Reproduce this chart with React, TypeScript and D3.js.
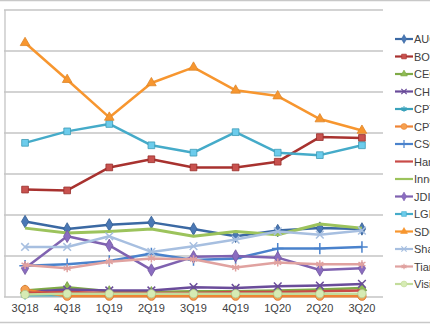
import React from "react";
import * as d3 from "d3";

const categories = ["3Q18", "4Q18", "1Q19", "2Q19", "3Q19", "4Q19", "1Q20", "2Q20", "3Q20"];

const seriesNames = ["AUO", "BOE", "CEC-Panda", "CHOT", "CPT", "CPTF", "CSOT", "HannStar", "Innolux", "JDI", "LGD", "SDC", "Sharp", "Tianma", "Visionox"];

const auo = [9.2, 8.3, 8.8, 9.1, 8.3, 7.4, 8.1, 8.4, 8.3];
const boe = [13.1, 13.0, 15.8, 16.8, 15.8, 15.8, 16.5, 19.5, 19.4];
const cec = [0.8, 1.2, 0.7, 0.6, 0.7, 0.7, 0.8, 0.9, 1.1];
const chot = [0.6, 0.9, 0.8, 0.8, 1.2, 1.1, 1.3, 1.4, 1.6];
const cpt = [0.2, 0.2, 0.2, 0.2, 0.2, 0.2, 0.2, 0.2, 0.2];
const cptf = [0.9, 0.1, 0.1, 0.1, 0.1, 0.1, 0.1, 0.1, 0.1];
const csot = [3.8, 4.0, 4.4, 5.3, 4.5, 4.7, 5.9, 5.9, 6.1];
const hannstar = [0.5, 0.6, 0.5, 0.5, 0.5, 0.6, 0.6, 0.7, 0.8];
const innolux = [8.4, 7.8, 8.0, 8.3, 7.4, 8.0, 7.6, 8.9, 8.4];
const jdi = [3.5, 7.4, 6.3, 3.3, 4.9, 5.0, 4.8, 3.3, 3.5];
const lgd = [18.8, 20.2, 21.1, 18.5, 17.6, 20.1, 17.6, 17.3, 18.5];
const sdc = [31.0, 26.5, 21.9, 26.1, 28.0, 25.2, 24.5, 21.7, 20.3];
const sharp = [6.1, 6.1, 7.4, 5.5, 6.2, 7.0, 8.0, 7.6, 8.1];
const tianma = [3.9, 3.5, 4.3, 4.7, 4.6, 3.6, 4.2, 4.0, 4.0];
const visionox = [0.3, 0.4, 0.4, 0.4, 0.4, 0.4, 0.4, 0.4, 0.4];

const yTicks = [0, 5, 10, 15, 20, 25, 30, 35];

const seriesValues = [auo, boe, cec, chot, cpt, cptf, csot, hannstar, innolux, jdi, lgd, sdc, sharp, tianma, visionox];
const seriesColors = ["#3b69a3", "#a8322f", "#7faa47", "#6a4c9a", "#3aa2bb", "#ef8434", "#4a82cc", "#c94b48", "#9cc35c", "#7f62b0", "#45abc9", "#f7962f", "#a7bfe0", "#e0a2a0", "#c3dc9b"];
const markerFill = ["#4a78b5", "#c9524f", "#8fbb55", "#6a4c9a", "#3aa2bb", "#f5a050", "#4a82cc", "#c94b48", "#9cc35c", "#8a6cc0", "#6cccec", "#f7962f", "#a7bfe0", "#e0a2a0", "#d6ebb4"];
const markerKinds = ["diamond", "square", "triangle", "times", "asterisk", "circle", "plus", "none", "none", "diamond", "square", "triangle", "times", "asterisk", "circle"];

const W = 430;
const H = 325;
const plot = { left: 4, right: 383, top: 10, bottom: 297 };

function symbolFor(kind: string) {
  switch (kind) {
    case "diamond": return { t: d3.symbolDiamond, stroke: false, size: 45 };
    case "square": return { t: d3.symbolSquare, stroke: false, size: 45 };
    case "triangle": return { t: d3.symbolTriangle, stroke: false, size: 40 };
    case "circle": return { t: d3.symbolCircle, stroke: false, size: 55 };
    case "times": return { t: d3.symbolTimes, stroke: true, size: 40 };
    case "asterisk": return { t: d3.symbolAsterisk, stroke: true, size: 45 };
    case "plus": return { t: d3.symbolPlus, stroke: true, size: 45 };
    default: return null;
  }
}

export default function App() {
  const x = d3.scaleBand<string>().domain(categories).range([plot.left, plot.right]);
  const y = d3.scaleLinear().domain([0, 35]).range([plot.bottom, plot.top]);
  const cx = (c: string) => (x(c) as number) + x.bandwidth() / 2;
  const line = d3.line<number>().x((_, i) => cx(categories[i])).y((v) => y(v));

  const legendY = d3.scalePoint<string>().domain(seriesNames).range([39, 284]);

  return (
    <svg width={W} height={H} style={{ position: "fixed", left: 0, top: 0, background: "#fff" }}>
      <line x1={0} x2={W} y1={0.5} y2={0.5} stroke="#c8c8c8" strokeWidth={1.5} />
      <line x1={0} x2={W} y1={322.5} y2={322.5} stroke="#c8c8c8" strokeWidth={1.5} />
      {yTicks.map((t) => (
        <line key={t} x1={plot.left} x2={plot.right} y1={y(t)} y2={y(t)} stroke="#c4c4c4" strokeWidth={1.3} />
      ))}
      <line x1={plot.left + 1} x2={plot.left + 1} y1={plot.top} y2={plot.bottom} stroke="#c4c4c4" strokeWidth={1.3} />
      {categories.map((c) => (
        <text key={c} x={cx(c)} y={312} textAnchor="middle" fontFamily="Liberation Sans, Arial, sans-serif" fontSize={11} fill="#404040">{c}</text>
      ))}
      {seriesValues.map((vals, si) => {
        const sym = symbolFor(markerKinds[si]);
        const col = seriesColors[si];
        return (
          <g key={seriesNames[si]}>
            <path d={line(vals) || ""} fill="none" stroke={col} strokeWidth={si === 8 ? 3 : 2.5} strokeLinejoin="round" />
            {sym && vals.map((v, i) => (
              <path
                key={i}
                transform={`translate(${cx(categories[i])},${y(v)})`}
                d={d3.symbol(sym.t, sym.size)() || ""}
                fill={sym.stroke ? "none" : markerFill[si]}
                stroke={sym.stroke ? col : d3.color(col)!.darker(0.3).toString()}
                strokeWidth={sym.stroke ? 1.5 : 0.8}
              />
            ))}
          </g>
        );
      })}
      {seriesNames.map((n, si) => {
        const ly = legendY(n) as number;
        const sym = symbolFor(markerKinds[si]);
        const col = seriesColors[si];
        return (
          <g key={n}>
            <line x1={395} x2={413} y1={ly} y2={ly} stroke={col} strokeWidth={2.2} />
            {sym && (
              <path
                transform={`translate(404,${ly})`}
                d={d3.symbol(sym.t, sym.size * 0.5)() || ""}
                fill={sym.stroke ? "none" : markerFill[si]}
                stroke={col}
                strokeWidth={sym.stroke ? 1.2 : 0.6}
              />
            )}
            <text x={414} y={ly + 4} fontFamily="Liberation Sans, Arial, sans-serif" fontSize={11} fill="#404040">{n}</text>
          </g>
        );
      })}
    </svg>
  );
}
